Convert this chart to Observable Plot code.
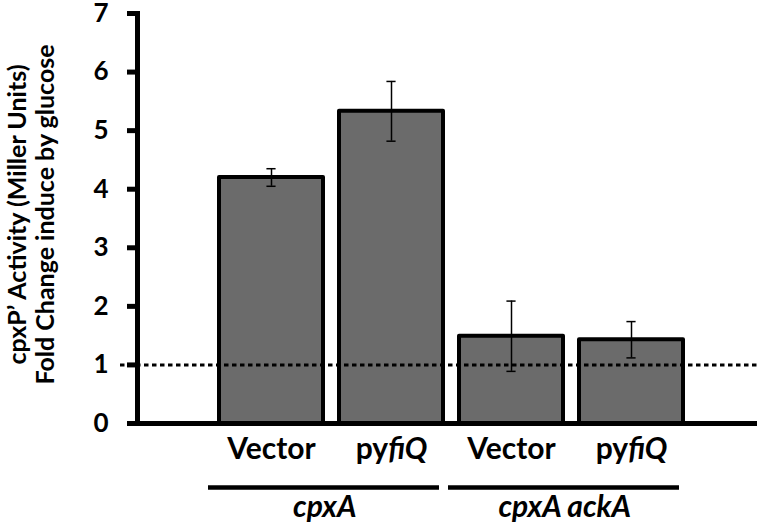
<!DOCTYPE html>
<html>
<head>
<meta charset="utf-8">
<script src="https://cdn.jsdelivr.net/npm/d3@7"></script>
<script src="https://cdn.jsdelivr.net/npm/@observablehq/plot@0.6"></script>
<style>
  html, body { margin: 0; padding: 0; background: white; }
</style>
</head>
<body>
<div id="chart"></div>
<script>
// ---- data ----
const strains = ["cpxA", "cpxA", "cpxA ackA", "cpxA ackA"];
const labelRoman = ["Vector", "py", "Vector", "py"];
const labelItalic = ["", "fiQ", "", "fiQ"];
const means = [4.2, 5.33, 1.49, 1.43];
const errors = [0.15, 0.51, 0.6, 0.31];
const yTicks = [0, 1, 2, 3, 4, 5, 6, 7];
const baseline = [1];
const groupNames = ["cpxA", "cpxA ackA"];
const yTitle = "cpxP\u2019 Activity (Miller Units)\nFold Change induce by glucose";

const keys = strains.map((s, i) => s + "|" + i);
const data = keys.map((k, i) => ({
  key: k, strain: strains[i], label: labelRoman[i] + labelItalic[i],
  mean: means[i], err: errors[i]
}));
const groups = groupNames.map(g => {
  const ks = data.filter(d => d.strain === g).map(d => d.key);
  return {name: g, first: ks[0], last: ks[ks.length - 1]};
});

const xOpts = {domain: keys, range: [210, 692], paddingInner: 0.13, paddingOuter: 0.065};
const xs = Plot.scale({x: {type: "band", ...xOpts}});
const step = xs.step;
const bw = xs.bandwidth;

const chart = Plot.plot({
  width: 760,
  height: 522,
  marginTop: 13,
  marginBottom: 99,
  marginLeft: 137,
  marginRight: 3,
  style: {fontFamily: "Lato, sans-serif", background: "white", color: "black", overflow: "visible"},
  x: {...xOpts, type: "band", axis: null},
  y: {domain: [0, 7], axis: null},
  marks: [
    Plot.barY(data, {x: "key", y: "mean", fill: "#6b6b6b", stroke: "black", strokeWidth: 4, strokeLinejoin: "round"}),
    Plot.ruleX(data, {x: "key", y1: d => d.mean - d.err, y2: d => d.mean + d.err, stroke: "black", strokeWidth: 1.5}),
    Plot.tickY(data, {x: "key", y: d => d.mean + d.err, stroke: "black", strokeWidth: 1.5, insetLeft: (bw - 10) / 2, insetRight: (bw - 10) / 2}),
    Plot.tickY(data, {x: "key", y: d => d.mean - d.err, stroke: "black", strokeWidth: 1.5, insetLeft: (bw - 10) / 2, insetRight: (bw - 10) / 2}),
    Plot.ruleY(baseline, {stroke: "black", strokeWidth: 3, strokeDasharray: "4.5,3.5", insetLeft: -17}),
    Plot.ruleY([0], {stroke: "black", strokeWidth: 5}),
    Plot.frame({anchor: "left", stroke: "black", strokeWidth: 5, strokeLinecap: "square"}),
    Plot.axisY({ticks: yTicks, tickSize: 10, tickPadding: 19, strokeWidth: 5, fontSize: 26, fontWeight: "bold", label: null, tickFormat: d => d}),
    Plot.axisX({tickSize: 0, tickPadding: 14, fontSize: 30, fontWeight: "bold", label: null, tickFormat: k => data.find(d => d.key === k).label}),
    Plot.ruleY(groups, {y: () => 0, x1: "first", x2: "last", dy: 64, stroke: "black", strokeWidth: 4.5, insetLeft: -11, insetRight: 4}),
    Plot.text(groups, {x: "first", y: () => 0, text: "name", dx: step / 2 - 7, dy: 72, lineAnchor: "top", fontSize: 30, fontWeight: "bold", fontStyle: "italic"}),
    Plot.text([yTitle], {frameAnchor: "left", textAnchor: "middle", lineAnchor: "middle", rotate: -90, dx: -106, dy: -4, fontSize: 25, fontWeight: "bold", lineHeight: 1.12})
  ]
});

// render the italic part of the plasmid names
d3.select(chart).selectAll("text").each(function () {
  const t = this.textContent;
  const i = data.findIndex(d => d.label === t && labelItalic[data.indexOf(d)]);
  if (i >= 0) {
    const sel = d3.select(this);
    sel.text(null);
    sel.append("tspan").text(labelRoman[i]);
    sel.append("tspan").attr("font-style", "italic").text(labelItalic[i]);
  }
});

document.getElementById("chart").appendChild(chart);
</script>
</body>
</html>
